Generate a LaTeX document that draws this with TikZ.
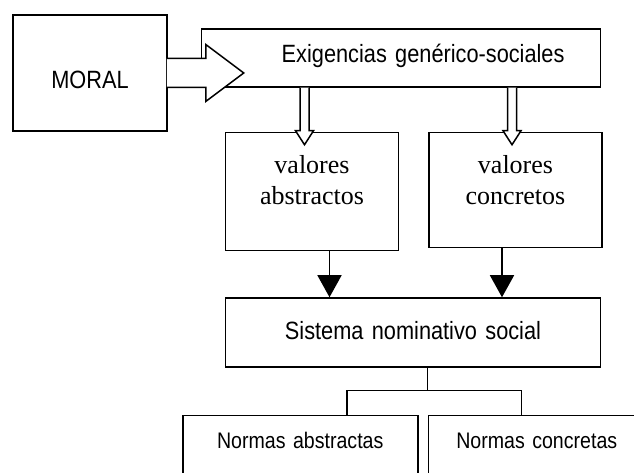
\documentclass[tikz,border=0pt]{standalone}
\usepackage{fontspec}
\usepackage{tikz}
\usetikzlibrary{positioning,arrows.meta,calc}
\newfontfamily\arialn[FakeStretch=0.87]{Liberation Sans}
\newfontfamily\timesr{Liberation Serif}
\newcommand{\hollowdown}[1]{\draw[hollow] #1 ++(-4.5,0) -- ++(0,-43) -- ++(-4.5,0) -- ++(9,-14) -- ++(9,14) -- ++(-4.5,0) -- ++(0,43);}

\begin{document}
\begin{tikzpicture}[x=1pt, y=1pt, line width=1.5pt, >={Triangle[length=22pt,width=24pt]},
box/.style={draw, fill=white, inner sep=0pt, align=center},
sans/.style={font=\arialn\fontsize{25}{29}\selectfont},
serif/.style={font=\timesr\fontsize{26}{31.5}\selectfont},
small/.style={font=\arialn\fontsize{22.5}{26}\selectfont},
hollow/.style={draw, fill=white, line join=miter}
]
\path[use as bounding box, clip] (0,0) rectangle (634,473);

\node (moral) [box, sans, text width=154pt, text height=74pt, text depth=42pt] at (90,400) {MORAL\hspace*{8pt}};
\node (exig) [box, sans, inner xsep=36pt, text width=327pt, align=right, text height=34pt, text depth=24pt,
  below right=14pt and 33pt of moral.north east] {Exigencias genérico-sociales};
\node (valabs) [box, serif, text width=173pt, text height=41pt, text depth=77pt,
  below right=44pt and 24pt of exig.south west] {valores\\abstractos};
\node (valcon) [box, serif, text width=173pt, text height=41pt, text depth=74pt,
  below right=0pt and 29pt of valabs.north east] {valores\\concretos};
\node (sistema) [box, sans, text width=375pt, text height=42pt, text depth=27pt,
  below right=46pt and 0pt of valabs.south west] {Sistema nominativo social};
\node (normabs) [box, small, text width=235pt, text height=33pt, text depth=80pt,
  below left=47pt and -5.5pt of sistema.south] {Normas abstractas};
\node (normcon) [box, small, text width=217pt, text height=33pt, text depth=80pt,
  below right=0pt and 9pt of normabs.north east] {Normas concretas};

% big arrow MORAL -> exigencias
\draw[hollow] ([xshift=-1pt]moral.east) ++(0,14.5) -- ++(39,0) -- ++(0,14) -- ++(38,-28.5)
  -- ++(-38,-28.5) -- ++(0,14) -- ++(-39,0);

\hollowdown{($(valabs.north |- exig.south)+(-7.5,0)$)}
\hollowdown{($(valcon.north |- exig.south)+(-3.5,0)$)}

\coordinate (a1) at ($(valabs.south)+(17.5,0)$);
\coordinate (a2) at ($(valcon.south)+(-13.5,0)$);
\draw[->] (a1) -- (a1 |- sistema.north);
\draw[->] (a2) -- (a2 |- sistema.north);

\coordinate (fork) at ($(sistema.south)+(14.5,-23)$);
\draw ([xshift=14.5pt]sistema.south) -- (fork);
\draw ($(normabs.north)+(46.5,0)$) |- (fork) -| ($(normcon.north)+(-15.5,0)$);

\end{tikzpicture}
\end{document}
